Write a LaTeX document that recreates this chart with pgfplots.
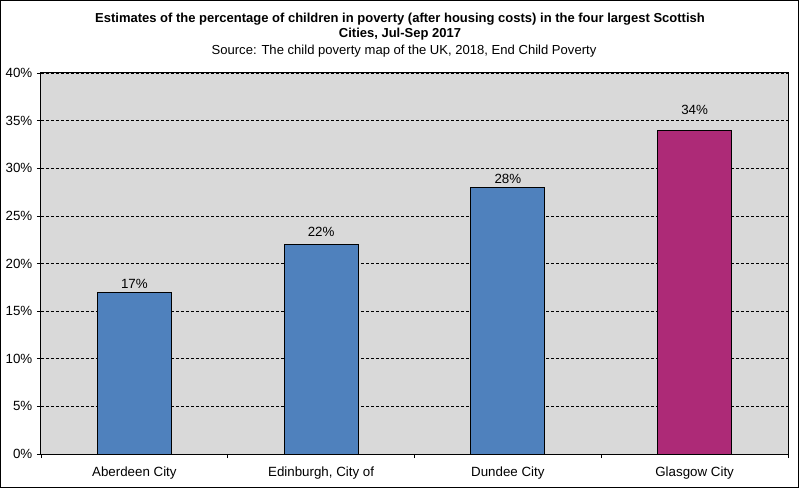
\documentclass[border=0pt]{standalone}
\usepackage{pgfplots}
\pgfplotsset{compat=1.18}
\usepackage{fontspec}
\setmainfont{Liberation Sans}
\usetikzlibrary{calc}
\definecolor{barblue}{HTML}{4F81BD}
\definecolor{barmag}{HTML}{AD2A77}
\definecolor{plotgrey}{HTML}{D9D9D9}

\begin{document}
\begin{tikzpicture}
\begin{axis}[
    scale only axis,
    width=560.25pt, height=285.75pt,
    xmin=-0.5, xmax=3.5,
    ymin=0, ymax=40,
    ybar, bar width=55.5pt, bar shift=0pt,
    axis background/.style={fill=plotgrey},
    axis line style={black, line width=0.75pt},
    xtick={0,1,2,3},
    xticklabels={Aberdeen City, {Edinburgh, City of}, Dundee City, Glasgow City},
    major x tick style={draw=none},
    minor xtick={-0.5,0.5,1.5,2.5,3.5},
    minor x tick style={black, line width=0.5pt},
    minor tick length=3pt,
    ytick={0,5,...,40},
    yticklabel={\pgfmathprintnumber{\tick}\%},
    y tick style={black, line width=0.5pt},
    major tick length=3pt,
    tick align=outside,
    tick pos=left,
    ymajorgrids,
    major grid style={black, line width=0.5pt, dash pattern=on 2.25pt off 1.5pt},
    tick label style={font=\fontsize{10}{12}\selectfont},
    xticklabel style={yshift=-3pt},
    visualization depends on={\thisrow{off} \as \laboff},
    nodes near coords={\pgfmathprintnumber{\pgfplotspointmeta}\%},
    nodes near coords style={font=\fontsize{10}{12}\selectfont, black, yshift=-1pt+\laboff pt},
    /pgf/number format/assume math mode=true,
    clip=false,
]
\addplot[fill=barblue, draw=black, line width=0.75pt] table {
x y off
0 17 0
1 22 3
2 28 0
};
\addplot[fill=barmag, draw=black, line width=0.75pt] table {
x y off
3 34 8.6
};
\end{axis}
\draw[black, line width=0.75pt] ($(current axis.south west)+(-30.375pt,-25.125pt)$) rectangle ($(current axis.north east)+(7.875pt,54.375pt)$);
\node[align=center, font=\fontsize{9.75}{11.25}\selectfont\bfseries, anchor=center]
  at ($(current axis.north west)+(269.25pt,34.6pt)$)
  {Estimates of the percentage of children in poverty (after housing costs) in the four largest Scottish\\Cities, Jul-Sep 2017};
\node[font=\fontsize{9.8}{11}\selectfont, anchor=center]
  at ($(current axis.north west)+(272.25pt,16.2pt)$)
  {Source: The child poverty map of the UK, 2018, End Child Poverty};
\useasboundingbox ($(current axis.south west)+(-30.75pt,-26.25pt)$) rectangle ($(current axis.north east)+(9pt,54.75pt)$);
\end{tikzpicture}
\end{document}
